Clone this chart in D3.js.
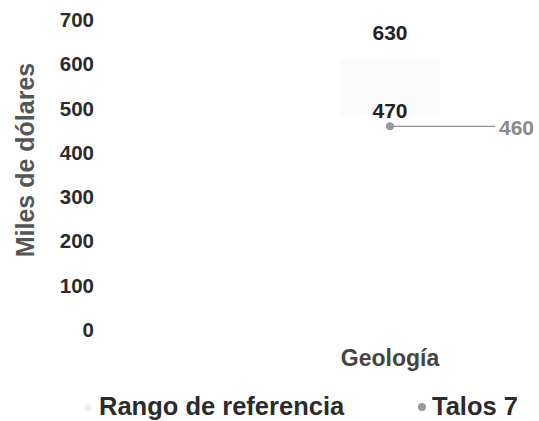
<!DOCTYPE html>
<html>
<head>
<meta charset="utf-8">
<script src="https://cdn.jsdelivr.net/npm/d3@7.9.0/dist/d3.min.js"></script>
<style>
  body { margin: 0; background: #fff; }
  text { font-family: "Liberation Sans", Arial, sans-serif; font-weight: bold; }
</style>
</head>
<body>
<div id="chart"></div>
<script>
const categories = ['Geología'];
const rangeLow = [470];
const rangeHigh = [630];
const talos = [460];
const yTicks = [0, 100, 200, 300, 400, 500, 600, 700];
const seriesNames = ['Rango de referencia', 'Talos 7'];

const width = 539, height = 421;
const svg = d3.select('#chart').append('svg')
  .attr('width', width).attr('height', height);

const yScale = d3.scaleLinear().domain([0, 700]).range([330, 20]);
const xScale = d3.scaleBand().domain(categories).range([246, 534]);

// y axis: labels only
const yAxis = svg.append('g')
  .attr('transform', 'translate(94,0)')
  .call(d3.axisLeft(yScale).tickValues(yTicks).tickSize(0).tickPadding(0));
yAxis.select('.domain').remove();
yAxis.selectAll('text')
  .attr('font-size', 20.5).attr('fill', '#2b2b2b')
  .style('font-family', '"Liberation Sans", Arial, sans-serif')
  .style('font-weight', 'bold');

svg.append('text')
  .attr('transform', 'translate(34,160) rotate(-90)')
  .attr('text-anchor', 'middle')
  .attr('font-size', 25).attr('fill', '#555')
  .text('Miles de dólares');

const cx = (d) => xScale(d) + xScale.bandwidth() / 2;

// category label
svg.selectAll('.cat')
  .data(categories)
  .join('text')
  .attr('x', cx).attr('y', 366)
  .attr('text-anchor', 'middle')
  .attr('font-size', 23).attr('fill', '#444')
  .text((d) => d);

// reference range (barely visible)
svg.selectAll('.range')
  .data(categories)
  .join('rect')
  .attr('x', (d) => cx(d) - 50)
  .attr('width', 100)
  .attr('y', (d, i) => yScale(rangeHigh[i]) + 8)
  .attr('height', (d, i) => yScale(rangeLow[i]) - yScale(rangeHigh[i]) - 14)
  .attr('fill', '#fbfbfb');

svg.selectAll('.lblHigh')
  .data(categories)
  .join('text')
  .attr('x', cx).attr('y', (d, i) => yScale(rangeHigh[i]) - 11)
  .attr('text-anchor', 'middle')
  .attr('font-size', 21).attr('fill', '#222')
  .text((d, i) => rangeHigh[i]);

svg.selectAll('.lblLow')
  .data(categories)
  .join('text')
  .attr('x', cx).attr('y', (d, i) => yScale(rangeLow[i]) - 4)
  .attr('text-anchor', 'middle')
  .attr('font-size', 21).attr('fill', '#222')
  .text((d, i) => rangeLow[i]);

// Talos 7 point with leader line
svg.selectAll('.lead')
  .data(categories)
  .join('line')
  .attr('x1', cx).attr('x2', (d) => cx(d) + 105)
  .attr('y1', (d, i) => yScale(talos[i]))
  .attr('y2', (d, i) => yScale(talos[i]))
  .attr('stroke', '#777').attr('stroke-width', 1);

svg.selectAll('.pt')
  .data(categories)
  .join('circle')
  .attr('cx', cx).attr('cy', (d, i) => yScale(talos[i]))
  .attr('r', 4).attr('fill', '#999');

svg.selectAll('.lblTalos')
  .data(categories)
  .join('text')
  .attr('x', (d) => cx(d) + 109).attr('y', (d, i) => yScale(talos[i]) + 9)
  .attr('font-size', 21).attr('fill', '#8a8a8a')
  .text((d, i) => talos[i]);

// legend
const legend = svg.append('g');
legend.append('circle').attr('cx', 88).attr('cy', 407).attr('r', 4).attr('fill', '#f2f2f2');
legend.append('text').attr('x', 99).attr('y', 415).attr('font-size', 25.5).attr('fill', '#2b2b2b').text(seriesNames[0]);
legend.append('circle').attr('cx', 422).attr('cy', 407).attr('r', 4).attr('fill', '#999');
legend.append('text').attr('x', 432).attr('y', 415).attr('font-size', 25.5).attr('fill', '#2b2b2b').text(seriesNames[1]);
</script>
</body>
</html>
